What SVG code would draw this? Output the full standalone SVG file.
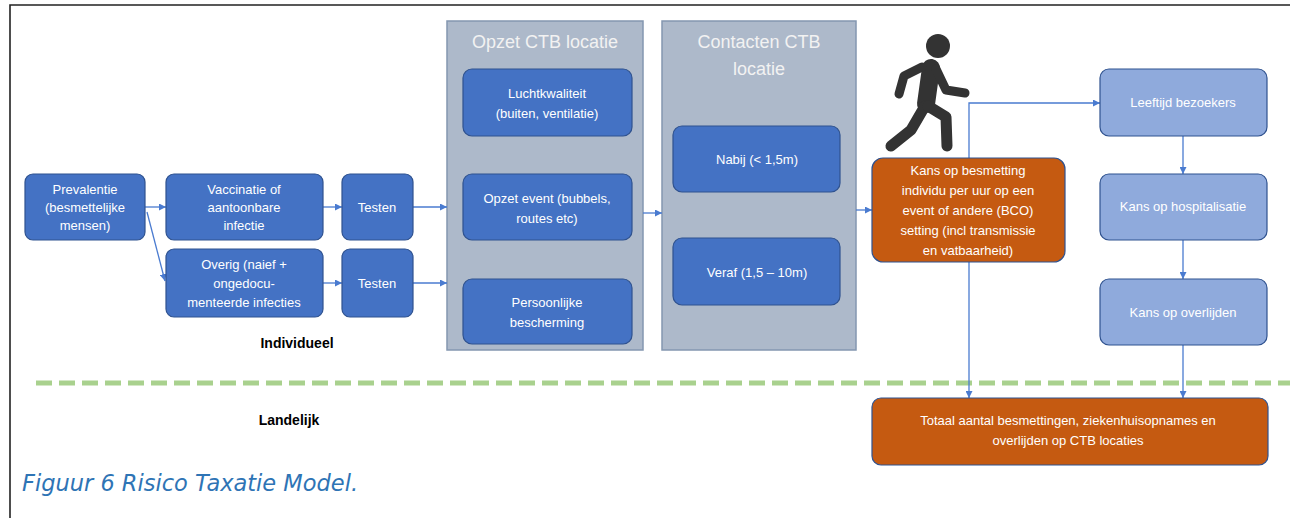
<svg xmlns="http://www.w3.org/2000/svg" width="1290" height="518" viewBox="0 0 1290 518">
<style>
  .dk{fill:#4472c4;stroke:#2f528f;stroke-width:1.2}
  .lt{fill:#8faadc;stroke:#2f528f;stroke-width:1.2}
  .or{fill:#c55a11;stroke:#2f528f;stroke-width:1.2}
  .pn{fill:#adb9ca;stroke:#8497b0;stroke-width:1.5}
  text{font-family:"Liberation Sans",Arial,sans-serif;}
  .t{font-size:13px;fill:#ffffff;text-anchor:middle}
  .h{font-size:18px;fill:#f2f2f2;text-anchor:middle}
  .b{font-size:14px;font-weight:bold;fill:#000;text-anchor:middle}
  .cap{font-family:"DejaVu Sans",Verdana,sans-serif;font-style:italic;font-size:22.5px;fill:#2e74b5}
  .c{fill:none;stroke:#4a7bd0;stroke-width:1.3}
</style>
<defs>
  <marker id="ah" viewBox="0 0 8 8" refX="8" refY="4" markerWidth="7" markerHeight="7" markerUnits="userSpaceOnUse" orient="auto">
    <path d="M0,0 L8,4 L0,8 z" fill="#4a7bd0"/>
  </marker>
</defs>
<rect width="1290" height="518" fill="#ffffff"/>
<path d="M10,518 L10,5 L1290,5" fill="none" stroke="#222" stroke-width="1.6"/>
<line x1="36" y1="383" x2="1290" y2="383" stroke="#a9d18e" stroke-width="5" stroke-dasharray="16,7"/>

<g id="panel-opzet">
  <rect class="pn" x="447" y="21" width="196" height="329"/>
  <text class="h" x="545" y="48">Opzet CTB locatie</text>
</g>
<g id="panel-contacten">
  <rect class="pn" x="662" y="21" width="194" height="329"/>
  <text class="h" x="759" y="48">Contacten CTB</text>
  <text class="h" x="759" y="75">locatie</text>
</g>

<g id="connectors">
  <path class="c" d="M145,207 L166,207" marker-end="url(#ah)"/>
  <path class="c" d="M147,212 L165,281" marker-end="url(#ah)"/>
  <path class="c" d="M323,207 L342,207" marker-end="url(#ah)"/>
  <path class="c" d="M323,283 L342,283" marker-end="url(#ah)"/>
  <path class="c" d="M413,207 L447,207" marker-end="url(#ah)"/>
  <path class="c" d="M413,283 L447,283" marker-end="url(#ah)"/>
  <path class="c" d="M643,213 L662,213" marker-end="url(#ah)"/>
  <path class="c" d="M856,210 L872,210" marker-end="url(#ah)"/>
  <path class="c" d="M969,158 L969,103 L1100,103" marker-end="url(#ah)"/>
  <path class="c" d="M1183,136 L1183,174" marker-end="url(#ah)"/>
  <path class="c" d="M1183,240 L1183,279" marker-end="url(#ah)"/>
  <path class="c" d="M969,262 L969,398" marker-end="url(#ah)"/>
  <path class="c" d="M1183,345 L1183,398" marker-end="url(#ah)"/>
</g>

<g id="prevalentie">
  <rect class="dk" x="25" y="174" width="120" height="66" rx="8"/>
  <text class="t" x="85" y="194">Prevalentie</text>
  <text class="t" x="85" y="212">(besmettelijke</text>
  <text class="t" x="85" y="230">mensen)</text>
</g>
<g id="vaccinatie">
  <rect class="dk" x="166" y="174" width="157" height="66" rx="8"/>
  <text class="t" x="244" y="194">Vaccinatie of</text>
  <text class="t" x="244" y="212">aantoonbare</text>
  <text class="t" x="244" y="230">infectie</text>
</g>
<g id="testen1">
  <rect class="dk" x="342" y="174" width="71" height="66" rx="8"/>
  <text class="t" x="377" y="212">Testen</text>
</g>
<g id="overig">
  <rect class="dk" x="166" y="249" width="157" height="68" rx="8"/>
  <text class="t" x="244" y="269">Overig (naief +</text>
  <text class="t" x="244" y="288">ongedocu-</text>
  <text class="t" x="244" y="307">menteerde infecties</text>
</g>
<g id="testen2">
  <rect class="dk" x="342" y="249" width="71" height="68" rx="8"/>
  <text class="t" x="377" y="288">Testen</text>
</g>

<g id="luchtkwaliteit">
  <rect class="dk" x="463" y="69" width="169" height="67" rx="9"/>
  <text class="t" x="547" y="98">Luchtkwaliteit</text>
  <text class="t" x="547" y="118">(buiten, ventilatie)</text>
</g>
<g id="opzet-event">
  <rect class="dk" x="463" y="174" width="169" height="66" rx="9"/>
  <text class="t" x="547" y="203">Opzet event (bubbels,</text>
  <text class="t" x="547" y="223">routes etc)</text>
</g>
<g id="persoonlijke">
  <rect class="dk" x="463" y="279" width="169" height="65" rx="9"/>
  <text class="t" x="547" y="307">Persoonlijke</text>
  <text class="t" x="547" y="327">bescherming</text>
</g>
<g id="nabij">
  <rect class="dk" x="673" y="126" width="167" height="66" rx="9"/>
  <text class="t" x="757" y="164">Nabij (&lt; 1,5m)</text>
</g>
<g id="veraf">
  <rect class="dk" x="673" y="238" width="167" height="67" rx="9"/>
  <text class="t" x="757" y="277">Veraf (1,5 – 10m)</text>
</g>

<g id="persoon" fill="none" stroke="#333333" stroke-linecap="round" stroke-linejoin="round">
  <circle cx="938" cy="46" r="12" fill="#333333" stroke="none"/>
  <path d="M931,68 L926,104" stroke-width="18"/>
  <path d="M922,67 L904,76 L899,94" stroke-width="9"/>
  <path d="M936,69 L946,90 L965,93" stroke-width="9"/>
  <path d="M925,106 L911,130 L891,146" stroke-width="11"/>
  <path d="M928,106 L946,117 L947,146" stroke-width="11"/>
</g>

<g id="kans-besmetting">
  <rect class="or" x="872" y="158" width="193" height="104" rx="11"/>
  <text class="t" x="968" y="175">Kans op besmetting</text>
  <text class="t" x="968" y="195">individu per uur op een</text>
  <text class="t" x="968" y="215">event of andere (BCO)</text>
  <text class="t" x="968" y="235">setting (incl transmissie</text>
  <text class="t" x="968" y="255">en vatbaarheid)</text>
</g>

<g id="leeftijd">
  <rect class="lt" x="1100" y="69" width="167" height="67" rx="9"/>
  <text class="t" x="1183" y="107">Leeftijd bezoekers</text>
</g>
<g id="hospitalisatie">
  <rect class="lt" x="1100" y="174" width="167" height="66" rx="9"/>
  <text class="t" x="1183" y="211">Kans op hospitalisatie</text>
</g>
<g id="overlijden">
  <rect class="lt" x="1100" y="279" width="167" height="66" rx="9"/>
  <text class="t" x="1183" y="317">Kans op overlijden</text>
</g>

<g id="totaal">
  <rect class="or" x="872" y="398" width="396" height="67" rx="9"/>
  <text class="t" x="1068" y="425">Totaal aantal besmettingen, ziekenhuisopnames en</text>
  <text class="t" x="1068" y="445">overlijden op CTB locaties</text>
</g>

<text class="b" x="297" y="348">Individueel</text>
<text class="b" x="289" y="425">Landelijk</text>
<text class="cap" x="22" y="491">Figuur 6 Risico Taxatie Model.</text>
</svg>
